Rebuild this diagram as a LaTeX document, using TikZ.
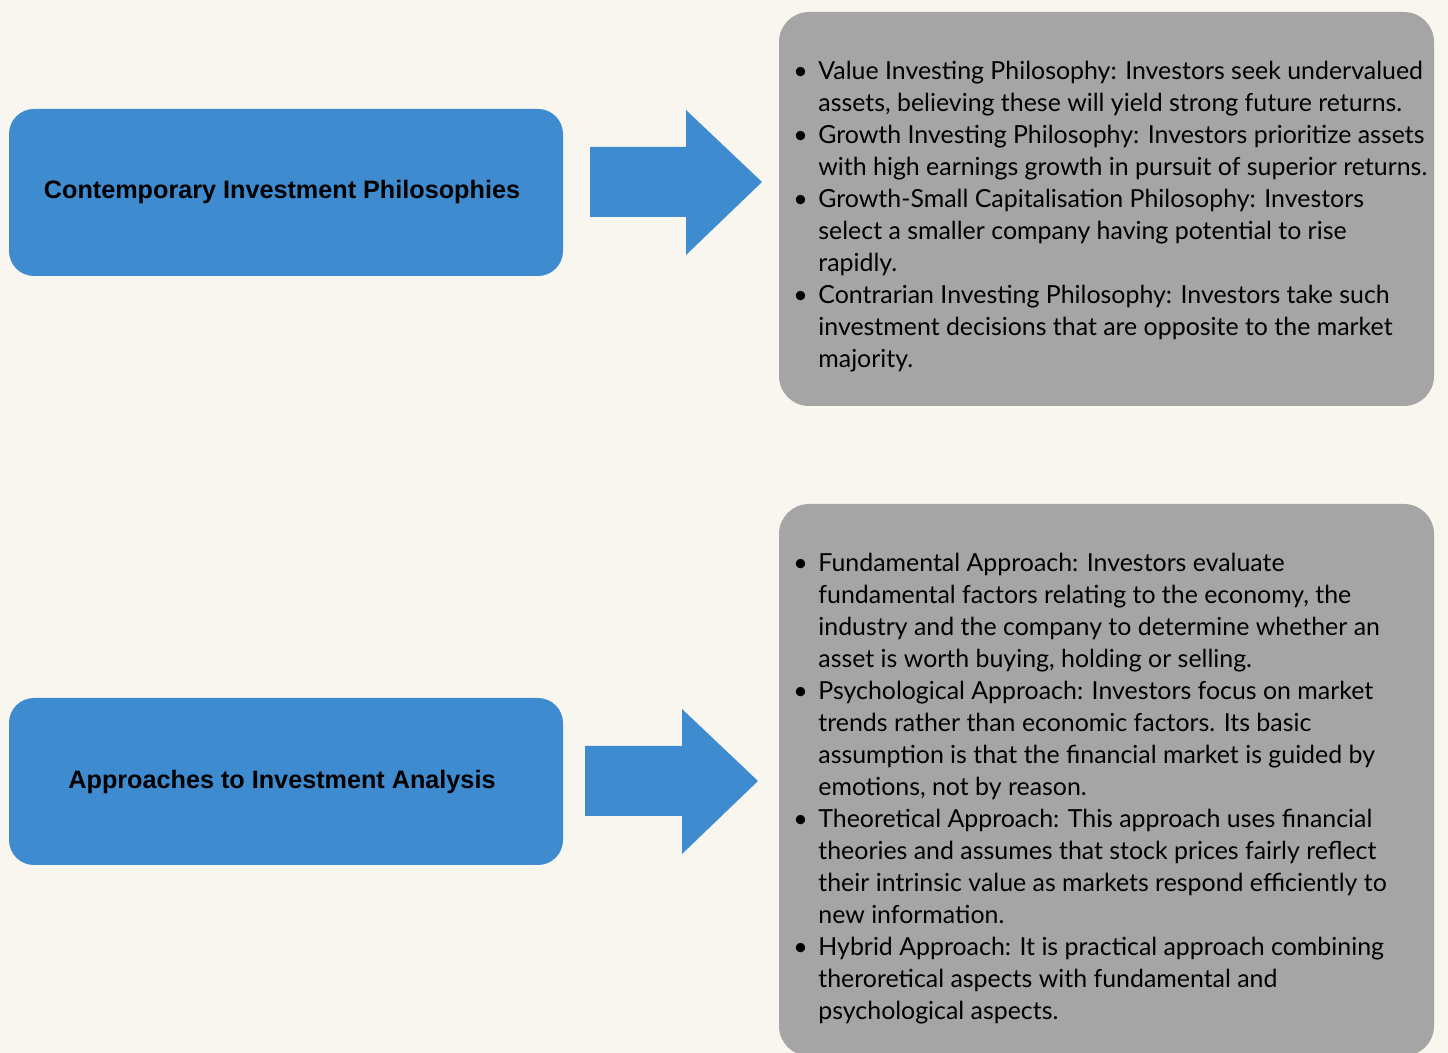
\documentclass[tikz,border=0pt]{standalone}
\usepackage{fontspec}
\setmainfont{Lato}
\newfontfamily\headfont{Liberation Sans}
\definecolor{bgcream}{HTML}{F9F6EF}
\definecolor{topicblue}{HTML}{3E8BD0}
\definecolor{notegray}{HTML}{A5A5A5}
\tikzset{
  topic/.style={fill=topicblue, rounded corners=12.5pt},
  notes/.style={fill=notegray, rounded corners=15pt},
  blockarrow/.style={fill=topicblue},
  heading/.style={font=\headfont\bfseries\fontsize{12.6}{15}\selectfont, inner sep=0pt},
  itemtext/.style={font=\fontsize{12.45}{16}\selectfont, anchor=north west, inner sep=0pt, align=left},
}
\newcommand{\bul}{\makebox[12.5pt][l]{\textbullet}}
\begin{document}
\begin{tikzpicture}[x=0.5pt,y=-0.5pt]
    \fill[bgcream] (0,0) rectangle (1448,1053);
    \useasboundingbox (0,0) rectangle (1448,1053);

    % left topic boxes
    \fill[topic] (9,109) rectangle (563,276);
    \node[heading] (philo) at (282,192) {Contemporary Investment Philosophies};
    \fill[topic] (9,698) rectangle (563,865);
    \node[heading] (analysis) at (282,782) {Approaches to Investment Analysis};

    % block arrows
    \fill[blockarrow] (590,147) -- (686,147) -- (686,110) -- (762,182) -- (686,255) -- (686,217) -- (590,217) -- cycle;
    \fill[blockarrow] (585,746) -- (682,746) -- (682,709) -- (758,781) -- (682,854) -- (682,816) -- (585,816) -- cycle;

    % right note boxes
    \fill[notes] (779,12) rectangle (1434,406);
    \node[itemtext] (philonotes) at (793,57) {%
      \begin{tabular}{@{}l@{}}
      \bul Value Investing Philosophy: Investors seek undervalued\\
      \hspace{12.5pt}assets, believing these will yield strong future returns.\\
      \bul Growth Investing Philosophy: Investors prioritize assets\\
      \hspace{12.5pt}with high earnings growth in pursuit of superior returns.\\
      \bul Growth-Small Capitalisation Philosophy: Investors\\
      \hspace{12.5pt}select a smaller company having potential to rise\\
      \hspace{12.5pt}rapidly.\\
      \bul Contrarian Investing Philosophy: Investors take such\\
      \hspace{12.5pt}investment decisions that are opposite to the market\\
      \hspace{12.5pt}majority.
      \end{tabular}};

    \fill[notes] (779,504) rectangle (1434,1056);
    \node[itemtext] (analysisnotes) at (793,549) {%
      \begin{tabular}{@{}l@{}}
      \bul Fundamental Approach: Investors evaluate\\
      \hspace{12.5pt}fundamental factors relating to the economy, the\\
      \hspace{12.5pt}industry and the company to determine whether an\\
      \hspace{12.5pt}asset is worth buying, holding or selling.\\
      \bul Psychological Approach: Investors focus on market\\
      \hspace{12.5pt}trends rather than economic factors. Its basic\\
      \hspace{12.5pt}assumption is that the financial market is guided by\\
      \hspace{12.5pt}emotions, not by reason.\\
      \bul Theoretical Approach: This approach uses financial\\
      \hspace{12.5pt}theories and assumes that stock prices fairly reflect\\
      \hspace{12.5pt}their intrinsic value as markets respond efficiently to\\
      \hspace{12.5pt}new information.\\
      \bul Hybrid Approach: It is practical approach combining\\
      \hspace{12.5pt}theroretical aspects with fundamental and\\
      \hspace{12.5pt}psychological aspects.
      \end{tabular}};
\end{tikzpicture}
\end{document}
